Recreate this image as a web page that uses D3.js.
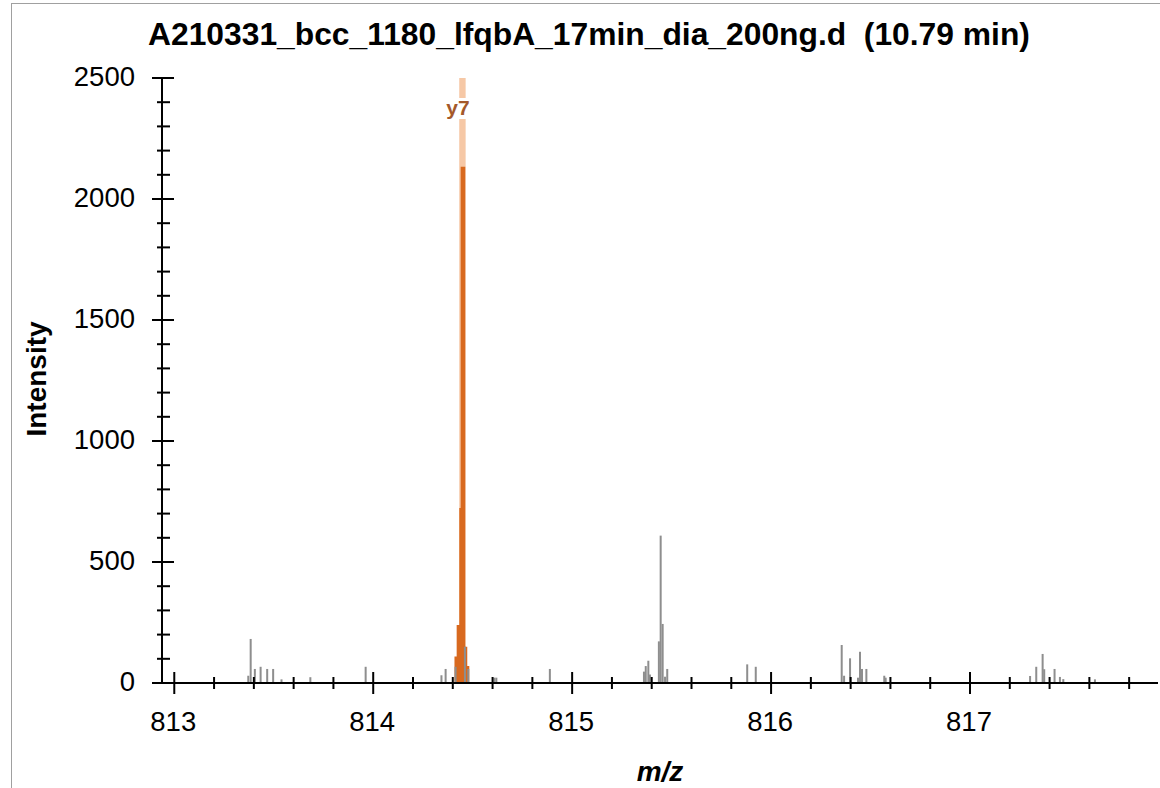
<!DOCTYPE html>
<html>
<head>
<meta charset="utf-8">
<script src="https://cdn.jsdelivr.net/npm/d3@7"></script>
<style>
  html, body { margin: 0; padding: 0; background: #ffffff; }
  svg { display: block; font-family: "Liberation Sans", Arial, sans-serif; }
</style>
</head>
<body>
<svg id="chart" width="1160" height="788"></svg>
<script>
// ---- data ----
const titleText = "A210331_bcc_1180_lfqbA_17min_dia_200ng.d  (10.79 min)";
const xLabel = "m/z";
const yLabel = "Intensity";
const xTicksMajor = [813, 814, 815, 816, 817];
const yTicksMajor = [0, 500, 1000, 1500, 2000, 2500];

// unmatched (gray) centroid peaks
const grayMz = [813.372, 813.384, 813.405, 813.434, 813.467, 813.497, 813.539, 813.684, 813.962,
  814.343, 814.364, 814.414, 814.461, 814.478, 814.609, 814.619, 814.888,
  815.361, 815.370, 815.383, 815.391, 815.436, 815.445, 815.455, 815.467, 815.478,
  815.880, 815.923,
  816.355, 816.367, 816.397, 816.437, 816.447, 816.457, 816.479, 816.569, 816.576,
  817.302, 817.333, 817.365, 817.373, 817.425, 817.452, 817.469, 817.628];
const grayInt = [30, 182, 58, 67, 58, 58, 15, 24, 67,
  32, 58, 67, 150, 58, 22, 22, 58,
  47, 70, 92, 35, 172, 609, 244, 26, 58,
  77, 67,
  157, 30, 102, 22, 129, 58, 58, 30, 22,
  29, 67, 120, 57, 58, 25, 16, 15];

// matched (orange) profile peak, step shape
const ionMz  = [814.4085, 814.4195, 814.4327, 814.4397, 814.4628, 814.4728, 814.4830];
const ionInt = [110, 240, 723, 2133, 150, 70, 0];

// annotation
const annMz = [814.4485];
const annLabel = ["y7"];

// ---- layout ----
const svg = d3.select("#chart");
const axisX0 = 162, axisY0 = 683;
const x = d3.scaleLinear().domain([812.888, 817.945]).range([152, 1158]);
const y = d3.scaleLinear().domain([0, 2500]).range([683, 78]);

// frame
svg.append("rect").attr("x", 11.5).attr("y", 3.5).attr("width", 1200).attr("height", 820)
  .attr("fill", "none").attr("stroke", "#a0a0a0").attr("stroke-width", 1);

// title
svg.append("text").attr("x", 148).attr("y", 45).attr("font-size", 31.8).attr("font-weight", "bold")
  .attr("fill", "#000").style("white-space", "pre").text(titleText);

// annotation band (light)
const annHalf = 0.0161;
svg.append("g").selectAll("rect").data(annMz).join("rect")
  .attr("x", d => x(d - annHalf)).attr("width", d => x(d + annHalf) - x(d - annHalf))
  .attr("y", y(2500)).attr("height", y(0) - y(2500))
  .attr("fill", "#f6c8a6");

// orange profile
const area = d3.area().curve(d3.curveStepAfter)
  .x((d, i) => x(ionMz[i])).y0(y(0)).y1((d, i) => y(ionInt[i]));
svg.append("path").datum(ionMz).attr("d", area).attr("fill", "#d8691f");

// gray peaks
svg.append("g").selectAll("rect").data(grayMz).join("rect")
  .attr("x", d => x(d) - 1).attr("width", 2)
  .attr("y", (d, i) => y(grayInt[i])).attr("height", (d, i) => y(0) - y(grayInt[i]))
  .attr("fill", "#8e8e8e");

// annotation label with white box
const labG = svg.append("g");
annMz.forEach((m, i) => {
  const t = labG.append("text").attr("x", x(m) - 4.5).attr("y", y(2500) + 37)
    .attr("text-anchor", "middle").attr("font-size", 21).attr("font-weight", "bold")
    .attr("fill", "#a4592a").text(annLabel[i]);
  const bb = t.node().getBBox();
  labG.insert("rect", "text").attr("x", bb.x).attr("y", bb.y + 2).attr("width", bb.width)
    .attr("height", bb.height - 2).attr("fill", "#fff");
});

// axes
const ax = svg.append("g").attr("stroke", "#000").attr("stroke-width", 2);
ax.append("line").attr("x1", axisX0).attr("x2", axisX0).attr("y1", y(2500)).attr("y2", axisY0 + 1);
ax.append("line").attr("x1", 152).attr("x2", 1158).attr("y1", axisY0).attr("y2", axisY0);

// y ticks
const yMinor = d3.range(0, 2501, 100).filter(v => v % 500 !== 0);
ax.selectAll(".ymin").data(yMinor).join("line")
  .attr("x1", axisX0 - 5).attr("x2", axisX0 + 8).attr("y1", d => y(d)).attr("y2", d => y(d));
ax.selectAll(".ymaj").data(yTicksMajor.filter(v => v > 0)).join("line")
  .attr("x1", axisX0 - 10).attr("x2", axisX0 + 12).attr("y1", d => y(d)).attr("y2", d => y(d));

// x ticks (minor every 0.2)
const xMinor = d3.range(0, 25).map(k => +(813 + k * 0.2).toFixed(1))
  .filter(v => v <= 817.945 && Math.abs(v - Math.round(v)) > 0.01);
ax.selectAll(".xmin").data(xMinor).join("line")
  .attr("x1", d => x(d)).attr("x2", d => x(d)).attr("y1", axisY0 - 6).attr("y2", axisY0 + 6);
ax.selectAll(".xmaj").data(xTicksMajor).join("line")
  .attr("x1", d => x(d)).attr("x2", d => x(d)).attr("y1", axisY0 - 11).attr("y2", axisY0 + 11);

// tick labels
svg.append("g").selectAll("text").data(yTicksMajor).join("text")
  .attr("x", 135).attr("y", d => y(d) + 8).attr("text-anchor", "end")
  .attr("font-size", 27.5).attr("fill", "#000").text(d => d);
svg.append("g").selectAll("text").data(xTicksMajor).join("text")
  .attr("x", d => x(d) - 1).attr("y", 731).attr("text-anchor", "middle")
  .attr("font-size", 27.5).attr("fill", "#000").text(d => d);

// axis titles
svg.append("text").attr("x", 660).attr("y", 781).attr("text-anchor", "middle")
  .attr("font-size", 28).attr("font-weight", "bold").attr("font-style", "italic").text(xLabel);
svg.append("text").attr("transform", "translate(46,379) rotate(-90)").attr("text-anchor", "middle")
  .attr("font-size", 28).attr("font-weight", "bold").text(yLabel);
</script>
</body>
</html>
